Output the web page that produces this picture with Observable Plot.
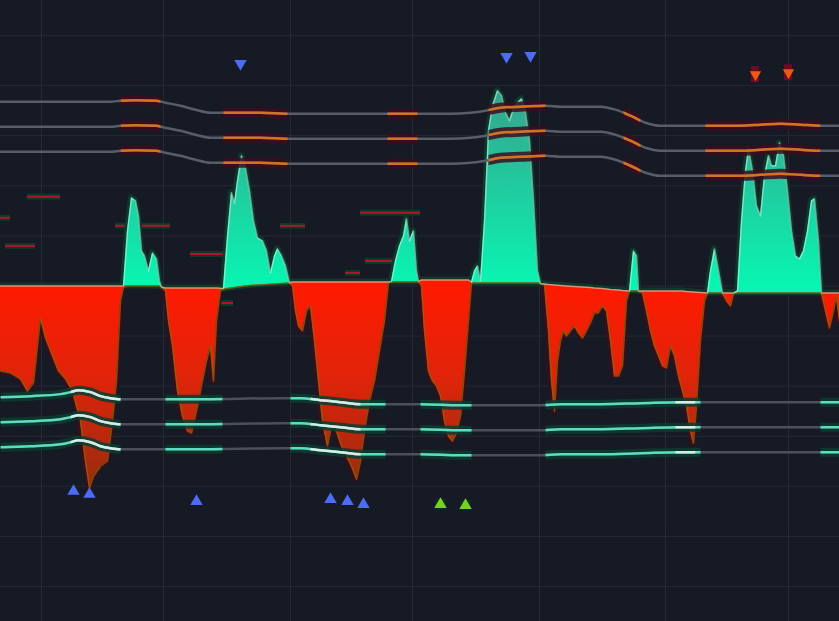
<!DOCTYPE html>
<html><head><meta charset="utf-8">
<script src="https://cdn.jsdelivr.net/npm/d3@7"></script>
<script src="https://cdn.jsdelivr.net/npm/@observablehq/plot@0.6"></script>
<style>html,body{margin:0;padding:0;background:#161a25;overflow:hidden}</style>
</head><body><div id="chart"></div>
<script>
// oscillator: [bar, value, base(signal)]
const osc = [
[0,-34,0],[2,-34.8,0],[4,-37.2,0],[5.4,-42,0],[6.6,-38.8,0],[8,-12.8,0],[9,-20.8,0],[10.4,-28,0],[11.6,-34,0],[13,-37.2,0],[14.4,-42,0],[16,-54,0],[17,-70,0],[17.8,-80.8,0],[18.6,-76,0],[20,-72,0],[21.4,-70,0],[22.4,-54,0],[23.2,-38,0],[24,-6,0],[24.6,-0.5,0],
[25.4,22,0],[26.2,35.2,0],[27,34,0],[27.6,28,0],[28.2,14,0],[28.8,12,0],[29.6,6,0],[30.4,13.2,0],[31.2,10.8,0],[31.8,2,0],[32.2,-0.5,-0.4],
[33,-2,-0.8],[33.6,-14,-0.8],[34.4,-24,-0.8],[35.4,-42,-0.8],[36.4,-52,-0.8],[37.4,-58,-0.8],[38.2,-58.8,-0.8],[39.2,-50,-0.8],[40.2,-40,-0.8],[41.2,-30,-0.8],[42,-24,-0.8],[42.6,-38,-0.8],[43.2,-14,-0.8],[44,-2,-0.9],
[44.6,-1,-1.2],[45.4,20,-1],[46.2,37.2,-0.8],[46.8,33,-0.6],[47.4,42,-0.4],[48.2,52,-0.2],[49,47,0],[49.8,38,0.2],[50.6,26,0.3],[51.4,19.2,0.4],[52.4,18,0.5],[53.2,14,0.6],[54,5.2,0.7],[54.8,12,0.8],[55.4,14.8,0.9],[56.2,12,1],[57,8,1.1],[57.8,1.3,1.2],
[58.4,0,1.6],[59,-10,1.6],[59.6,-16,1.6],[60.4,-18,1.6],[61.2,-10,1.6],[62,-8,1.6],[62.8,-22,1.6],[63.6,-38,1.6],[64.4,-54,1.6],[65.4,-64,1.6],[66.2,-56,1.6],[67.2,-58,1.6],[68.2,-64,1.6],[69.2,-68,1.6],[70.2,-72,1.6],[71.2,-77.2,1.6],[72,-70,1.6],[72.8,-58,1.6],[73.8,-46,1.6],[74.8,-38,1.6],[75.8,-26,1.6],[76.8,-14,1.6],[77.6,1.5,1.6],
[78.2,1.8,1.6],[79,10,1.6],[79.8,16,1.6],[80.6,20,1.6],[81.2,26.8,1.6],[81.8,18,1.6],[82.6,22,1.6],[83.2,6,1.6],[83.6,1.7,1.8],
[84.2,0,2.4],[84.8,-18,2.4],[85.6,-34,2.4],[86.4,-38,2.4],[87.2,-40,2.4],[88,-44,2.4],[88.8,-54,2.4],[89.6,-60,2.4],[90.4,-62,2.4],[91.2,-58.8,2.4],[92,-52,2.4],[92.8,-34,2.4],[93.6,-14,2.4],[94.2,1,1.5],
[94.8,6,1.2],[95.4,8,1.2],[96,2,1.2],[96.8,26,1.2],[97.6,62,1.2],[98.4,72,1.2],[99.4,78,1.2],[100.2,76,1.2],[101,69.2,1.2],[101.8,66,1.2],[102.6,70.8,1.2],[103.4,73.2,1.2],[104.2,74.8,1.2],[105,69.2,1.2],[105.8,58,1.2],[106.6,34,1.2],[107.4,6,1.2],[108,0.9,1],
[108.8,0.5,0.8],[109.6,-18,0.6],[110.2,-38,0.5],[110.8,-50,0.4],[111.4,-30,0.3],[112,-22,0.2],[112.6,-18,0.1],[113.2,-20,0],[114,-18,-0.1],[114.8,-16,-0.2],[115.6,-18.8,-0.3],[116.4,-20.8,-0.4],[117.2,-18,-0.5],[118,-14.8,-0.6],[118.8,-10.8,-0.8],[119.6,-10.8,-0.9],[120.4,-8,-1],[121.2,-10,-1.2],[122,-22,-1.4],[122.8,-36,-1.5],[123.6,-36,-1.6],[124.4,-32,-1.8],[125.2,-6,-1.9],[125.8,-2,-2],
[126.2,6,-2],[126.6,14,-2],[127.2,12,-2],[127.6,-2.2,-2],
[128.4,-2.8,-2],[129.2,-10,-2],[130,-18,-2],[130.8,-24,-2],[131.6,-28,-2],[132.4,-32,-2],[133.2,-32.8,-2],[134,-24,-2],[134.8,-28,-2],[135.6,-36,-2],[136.4,-42,-2],[137.2,-48,-2.2],[138,-58,-2.3],[138.6,-62.8,-2.4],[139.2,-48,-2.5],[140,-22,-2.6],[140.8,-6,-2.7],[141.4,-2.9,-2.8],
[142,6,-2.8],[142.8,14.8,-2.8],[143.6,6,-2.8],[144.4,-2.9,-2.8],
[145.2,-6,-2.8],[146,-8,-2.8],[146.6,-3,-2.8],
[147.4,-2,-2.8],[148.2,26,-2.8],[149,46,-2.8],[149.6,54.8,-2.8],[150.4,46,-2.8],[151.2,32,-2.8],[152,28,-2.8],[152.8,44,-2.8],[153.6,52,-2.8],[154.2,48,-2.8],[155,48,-2.8],[155.8,57.2,-2.8],[156.6,52,-2.8],[157.4,38,-2.8],[158.2,22,-2.8],[159,12,-2.8],[159.8,10.8,-2.8],[160.6,14,-2.8],[161.4,22,-2.8],[162.2,34,-2.8],[162.8,34.8,-2.8],[163.6,18,-2.8],[164.2,-2.9,-2.8],
[165,-10,-2.8],[165.8,-16.8,-2.8],[166.6,-10,-2.8],[167.2,-4,-2.8],[167.8,-14,-2.8]
];

// upper band centre line [bar, value]; bands at +10, 0, -10
const upperMid = [
[0,63.6],[8,63.6],[16,63.6],[22,63.6],[24,64],[27,64.2],[31,64],[33,63.2],[36,62],[39,60.4],[42,59.2],[46,59.2],[52,59.2],[58,58.8],[66,58.8],[74,58.8],[82,58.8],[90,58.8],[94,59.2],[97,60],[100,61.2],[104,61.6],[109,62],[112,61.6],[116,61.6],[120,61.6],[123,60.4],[126,58],[129,55.2],[132,54],[140,54],[148,54],[152,54.4],[156,54.8],[160,54.4],[164,54],[167.8,54]
];
// lower band centre line
const lowerMid = [
[0,-54.4],[6,-54],[12,-53.2],[14,-52.4],[15.6,-51.6],[18,-52.4],[20,-54],[22,-54.8],[24,-55.2],[40,-55.2],[56,-54.8],[60,-54.8],[64,-55.6],[68,-56.4],[72,-57.2],[84,-57.2],[92,-57.6],[108,-57.6],[112,-57.2],[120,-57.2],[128,-56.8],[136,-56.4],[152,-56.4],[167.8,-56.4]
];
const bandOffsets = [10, 0, -10];
const upActive = [[24,32],[44.6,57.4],[77.4,83.4],[97.6,109],[124.6,128],[141,164]];
const lowActive = [[0,24],[33,44.4],[58,77],[84,94.2],[109,140],[164,167.8]];
const lowWhite = [[14,24],[62,72],[135,139]];

const blueUp = [[14.6,-82],[17.8,-83.2],[39.2,-86],[66,-85.2],[69.4,-86],[72.6,-87.2]];
const greenUp = [[88,-87.2],[93,-87.6]];
const blueDown = [[48,88.8],[101.2,91.6],[106,92]];
const redDown = [[151,84.4],[157.6,85.2]];

// short signal fragments [barStart, barEnd, value]
const fragments = [[5.4,12,35.6],[0,2,27.2],[1,7,16],[23,34,24],[38,54,12.8],[56,61,24],[72,84,29.2],[73,82,10],[69,72,5.2],[68.6,76.6,-9.2],[33.4,46.6,-6.8]];

const gridX = [8.2, 32.6, 58, 82.4, 107.8, 133, 157.6];
const gridY = [-120,-100,-80,-60,-40,-20,0,20,40,60,80,100];

const rows = osc.map(([bar, v, base]) => ({bar, v, base, hi: Math.max(v, base), lo: Math.min(v, base)}));
const bandRows = mid => bandOffsets.flatMap(o => mid.map(([bar, v]) => ({bar, v: v + o, band: o})));
const upRows = bandRows(upperMid);
const lowRows = bandRows(lowerMid);
const pts = a => a.map(([bar, v]) => ({bar, v}));

const plot = Plot.plot({
  width: 839, height: 621, margin: 0,
  x: {domain: [0, 167.8], axis: null},
  y: {domain: [-134, 114], axis: null},
  style: {background: "#161a25", overflow: "hidden"},
  marks: [
    Plot.ruleX(gridX, {stroke: "#262a36", strokeWidth: 1}),
    Plot.ruleY(gridY, {stroke: "#262a36", strokeWidth: 1}),
    Plot.ruleY(fragments, {y: d => d[2], x1: d => d[0], x2: d => d[1], stroke: "#0b3a28", strokeWidth: 6}),
    Plot.ruleY(fragments, {y: d => d[2], x1: d => d[0], x2: d => d[1], stroke: "#b3122e", strokeWidth: 2}),
    // glows
    Plot.areaY(rows, {x: "bar", y1: "base", y2: "lo", fill: "none", stroke: "#3e0b1a", strokeWidth: 6}),
    Plot.areaY(rows, {x: "bar", y1: "base", y2: "hi", fill: "none", stroke: "#0a3a2c", strokeWidth: 6}),
    Plot.areaY(rows, {x: "bar", y1: "base", y2: "lo", fill: "url(#redG)"}),
    Plot.areaY(rows, {x: "bar", y1: "base", y2: "hi", fill: "url(#tealG)"}),
    Plot.line(rows, {x: "bar", y: "lo", stroke: "#8a6a0a", strokeOpacity: 0.75, strokeWidth: 1.5}),
    Plot.line(rows, {x: "bar", y: "hi", stroke: "#d8fff4", strokeOpacity: 0.5, strokeWidth: 1.5}),
    // upper bands
    Plot.line(upRows, {x: "bar", y: "v", z: "band", stroke: "#3d0c1e", strokeWidth: 10, strokeOpacity: 0.85, curve: "monotone-x", ariaDescription: "up-active"}),
    Plot.line(upRows, {x: "bar", y: "v", z: "band", stroke: "#595d69", strokeWidth: 2.5, curve: "monotone-x"}),
    Plot.line(upRows, {x: "bar", y: "v", z: "band", stroke: "#d4731e", strokeWidth: 2.5, curve: "monotone-x", ariaDescription: "up-active"}),
    // lower bands
    Plot.line(lowRows, {x: "bar", y: "v", z: "band", stroke: "#0b3d2f", strokeWidth: 9, strokeOpacity: 0.85, curve: "monotone-x", ariaDescription: "low-active"}),
    Plot.line(lowRows, {x: "bar", y: "v", z: "band", stroke: "#4c505c", strokeWidth: 2.5, curve: "monotone-x"}),
    Plot.line(lowRows, {x: "bar", y: "v", z: "band", stroke: "#5cdcc0", strokeWidth: 2.5, curve: "monotone-x", ariaDescription: "low-active"}),
    Plot.line(lowRows, {x: "bar", y: "v", z: "band", stroke: "#d6ece8", strokeWidth: 2.5, curve: "monotone-x", ariaDescription: "low-white"}),
    // markers
    Plot.rect(pts(redDown), {x1: d => d.bar - 0.8, x2: d => d.bar + 0.8, y1: d => d.v - 3.2, y2: d => d.v + 3.2, fill: "#6e0a22"}),
    Plot.dot(pts(greenUp), {x: "bar", y: "v", symbol: "square", r: 6, fill: "#0b2e24"}),
    Plot.dot(pts(blueUp), {x: "bar", y: "v", symbol: "triangle", r: 4.6, fill: "#4d6cf5"}),
    Plot.dot(pts(greenUp), {x: "bar", y: "v", symbol: "triangle", r: 4.6, fill: "#78d11c"}),
    Plot.dot(pts(blueDown), {x: "bar", y: "v", symbol: "triangle", r: 4.6, rotate: 180, fill: "#4d6cf5"}),
    Plot.dot(pts(redDown), {x: "bar", y: "v", symbol: "triangle", r: 4.2, rotate: 180, fill: "#ee5a16"})
  ]
});

const x = plot.scale("x"), y = plot.scale("y");
const svg = d3.select(plot);
const defs = svg.insert("defs", ":first-child");
const tg = defs.append("linearGradient").attr("id", "tealG").attr("gradientUnits", "userSpaceOnUse")
  .attr("x1", 0).attr("x2", 0).attr("y1", y.apply(0)).attr("y2", y.apply(78));
tg.append("stop").attr("offset", 0).attr("stop-color", "#08f5b2");
tg.append("stop").attr("offset", 1).attr("stop-color", "#38a28c");
const rg = defs.append("linearGradient").attr("id", "redG").attr("gradientUnits", "userSpaceOnUse")
  .attr("x1", 0).attr("x2", 0).attr("y1", y.apply(0)).attr("y2", y.apply(-80));
rg.append("stop").attr("offset", 0).attr("stop-color", "#ff1a00");
rg.append("stop").attr("offset", 0.45).attr("stop-color", "#e0240a");
rg.append("stop").attr("offset", 1).attr("stop-color", "#9a2c0e");
function clip(id, segs) {
  const cp = defs.append("clipPath").attr("id", id);
  segs.forEach(([a, b]) => cp.append("rect").attr("x", x.apply(a)).attr("width", x.apply(b) - x.apply(a)).attr("y", 0).attr("height", 621));
}
clip("upClip", upActive); clip("lowClip", lowActive); clip("whiteClip", lowWhite);
svg.selectAll('g[aria-description="up-active"]').attr("clip-path", "url(#upClip)");
svg.selectAll('g[aria-description="low-active"]').attr("clip-path", "url(#lowClip)");
svg.selectAll('g[aria-description="low-white"]').attr("clip-path", "url(#whiteClip)");
document.getElementById("chart").append(plot);
</script></body></html>
